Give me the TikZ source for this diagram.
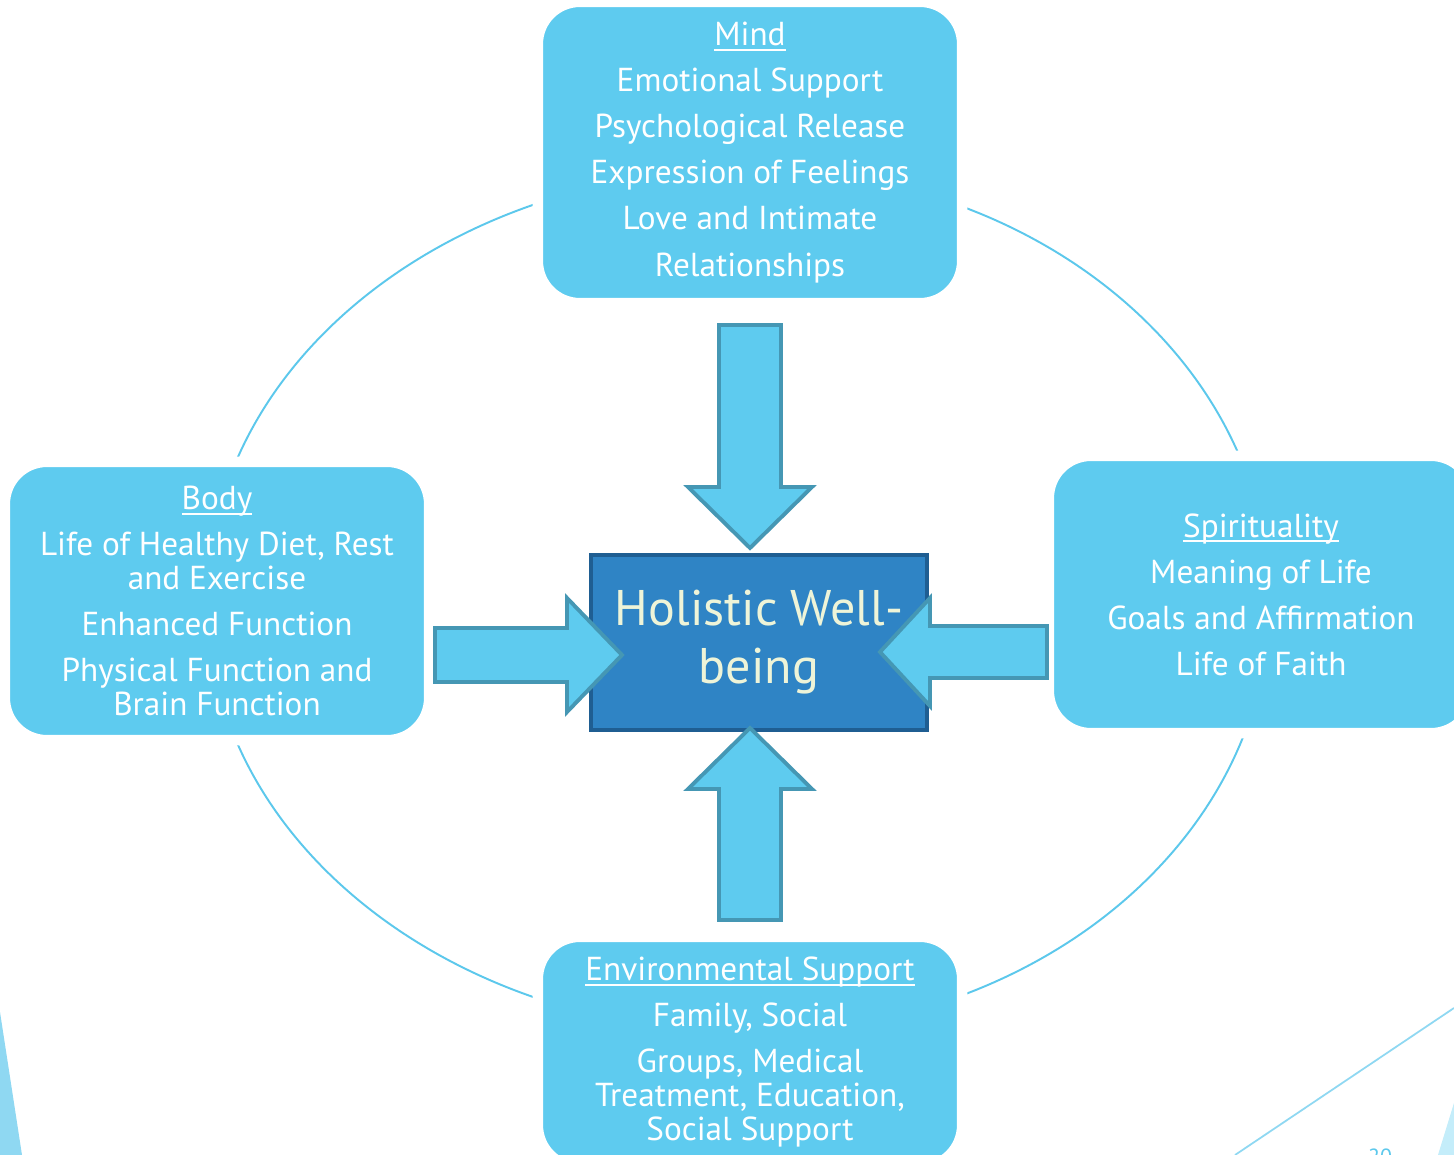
\documentclass[tikz,border=0pt]{standalone}
\usepackage{fontspec}
\setmainfont{PT Sans}
\definecolor{boxfill}{HTML}{5ECBEF}
\definecolor{arrowline}{HTML}{4597B4}
\definecolor{corefill}{HTML}{2F84C5}
\definecolor{coreline}{HTML}{1F5E92}
\definecolor{coretext}{HTML}{EEF4D8}
\definecolor{ringline}{HTML}{5CC8EC}
\definecolor{decoblue}{HTML}{8FD8F2}
\definecolor{decopale}{HTML}{C4EDFA}
% underline at a fixed depth, crossing descenders like the slide font does
\newcommand\headline[1]{\setbox0\hbox{#1}\rlap{\rule[-0.16em]{\wd0}{0.065em}}\box0}
\tikzset{
  facet/.style={rounded corners=24pt, fill=boxfill, draw=white, line width=6pt,
    text=white, align=center, inner sep=0pt,
    font=\fontsize{18.9}{19.4}\selectfont},
  core/.style={fill=corefill, draw=coreline, line width=2pt, text=coretext,
    align=center, inner sep=0pt, minimum width=6.72cm, minimum height=3.5cm,
    font=\fontsize{28.5}{33}\selectfont},
  blockarrow/.style={fill=boxfill, draw=arrowline, line width=2.2pt, line join=miter},
  ring/.style={draw=ringline, line width=1.1pt}
}
\begin{document}
\begin{tikzpicture}[x=0.02cm, y=-0.02cm]
\useasboundingbox (0,0) rectangle (1454,1155);
\clip (0,0) rectangle (1454,1155);
\fill[white] (0,0) rectangle (1454,1155);

% slide corner decorations
\fill[decoblue] (0,1012) -- (22,1155) -- (0,1155) -- cycle;
\fill[decopale] (1454,1103) -- (1438,1155) -- (1454,1155) -- cycle;
\draw[decoblue, line width=1pt] (1454,1008) -- (1235,1155);
\node[anchor=north, text=ringline, font=\fontsize{12.5}{14}\selectfont, inner sep=0pt] (pgnum) at (1380,1149) {20};

% ring linking the four facets (left and right halves)
\coordinate (ringtop) at (750,169);
\draw[ring] (ringtop) arc[start angle=90, end angle=270, x radius=10.86cm, y radius=8.64cm];
\draw[ring] (ringtop) arc[start angle=90, end angle=-90, x radius=10.39cm, y radius=8.64cm];

% four facets
\node[facet, minimum width=8.49cm, minimum height=6.03cm] (mind) at (750,152.5)
  {\headline{Mind}\\[6.8pt] Emotional Support\\[6.8pt] Psychological Release\\[6.8pt]
   Expression of Feelings\\[6.8pt] Love and Intimate\\[6.8pt] Relationships};
\node[facet, minimum width=8.49cm, minimum height=5.57cm] (body) at (217,601)
  {\headline{Body}\\[6.8pt] Life of Healthy Diet, Rest\\ and Exercise\\[6.8pt]
   Enhanced Function\\[6.8pt] Physical Function and\\ Brain Function};
\node[facet, minimum width=8.49cm, minimum height=5.55cm] (spirit) at (1261,594.5)
  {\headline{Spirituality}\\[6.8pt] Meaning of Life\\[6.8pt] Goals and Affirmation\\[6.8pt] Life of Faith};
\node[facet, minimum width=8.49cm, minimum height=4.61cm] (env) at (750,1052)
  {\headline{Environmental Support}\\[6.8pt] Family, Social\\[6.8pt] Groups, Medical\\
   Treatment, Education,\\ Social Support};

% centre
\node[core] (core) at (759,642.5) {Holistic Well-\\being};

% block arrows pointing into the centre
\draw[blockarrow] (719,325) -- (781,325) -- (781,487) -- (812,487) -- (750,548)
  -- (688,487) -- (719,487) -- cycle;
\draw[blockarrow] (750,728) -- (812,789) -- (781,789) -- (781,920) -- (719,920)
  -- (719,789) -- (688,789) -- cycle;
\draw[blockarrow] (435,628) -- (567,628) -- (567,598) -- (622,655) -- (567,712)
  -- (567,682) -- (435,682) -- cycle;
\draw[blockarrow] (880,652) -- (930,598) -- (930,626) -- (1047,626) -- (1047,678)
  -- (930,678) -- (930,706) -- cycle;
\end{tikzpicture}
\end{document}
